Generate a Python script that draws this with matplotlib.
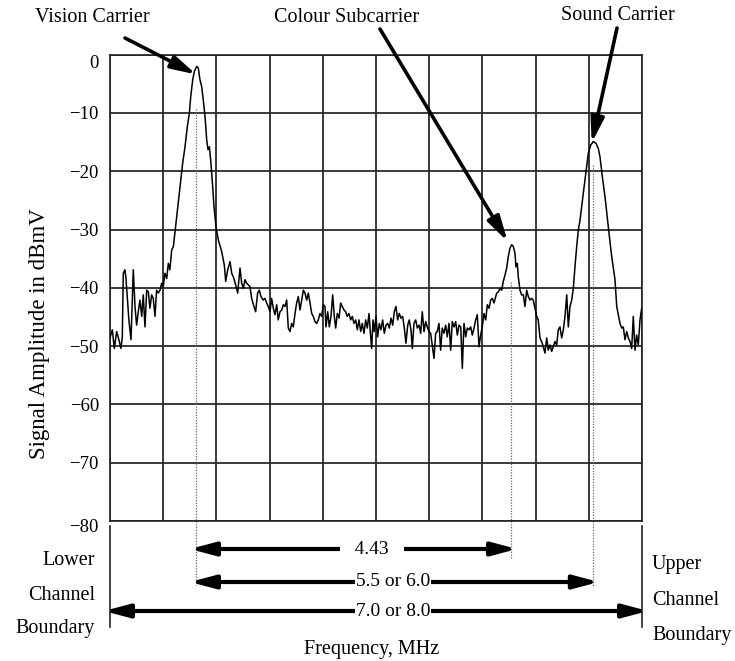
import math
import matplotlib
matplotlib.use("Agg")
import matplotlib.pyplot as plt
from matplotlib.ticker import MultipleLocator
from matplotlib.transforms import blended_transform_factory, ScaledTranslation

plt.rcParams['font.family'] = ['Liberation Serif', 'DejaVu Serif']

# ---------------- data ----------------
freq_mhz = [
    0.000, 0.035, 0.065, 0.100, 0.134, 0.165, 0.185, 0.200, 0.225, 0.240,
    0.266, 0.284, 0.316, 0.350, 0.376, 0.400, 0.425, 0.450, 0.477, 0.500,
    0.526, 0.552, 0.577, 0.600, 0.627, 0.650, 0.677, 0.700, 0.726, 0.752,
    0.777, 0.800, 0.827, 0.853, 0.877, 0.900, 0.928,
    0.953, 1.003, 1.053, 1.093, 1.128, 1.163, 1.193, 1.214, 1.244, 1.268,
    1.304, 1.328, 1.353, 1.379, 1.403, 1.429, 1.454, 1.474, 1.494, 1.514,
    1.544, 1.564, 1.594, 1.629, 1.680, 1.719, 1.740, 1.770, 1.805, 1.830,
    1.854, 1.890, 1.920, 1.955, 1.980, 2.005, 2.030, 2.055, 2.080, 2.105,
    2.130, 2.165, 2.190, 2.220, 2.245, 2.270, 2.305, 2.330, 2.356, 2.380,
    2.406, 2.430, 2.456, 2.480, 2.507, 2.530, 2.556, 2.582, 2.606, 2.632,
    2.657, 2.681, 2.707, 2.732, 2.756, 2.782, 2.807, 2.832, 2.857, 2.883,
    2.907, 2.932, 2.958, 2.982, 3.008, 3.033, 3.057, 3.083, 3.108, 3.132,
    3.158, 3.183, 3.208, 3.233, 3.248, 3.274, 3.298, 3.323, 3.349, 3.373,
    3.394, 3.418, 3.444, 3.469, 3.493, 3.519, 3.544, 3.568, 3.594, 3.619,
    3.644, 3.669, 3.695, 3.719, 3.744, 3.770, 3.794, 3.820, 3.845, 3.869,
    3.895, 3.920, 3.935, 3.955, 3.974, 4.000, 4.025, 4.050, 4.075, 4.100,
    4.125, 4.150, 4.176, 4.200, 4.226, 4.251, 4.275, 4.300, 4.326, 4.350,
    4.376, 4.400, 4.426, 4.450, 4.477, 4.500, 4.526, 4.546, 4.571, 4.597,
    4.621, 4.647, 4.672, 4.696, 4.722, 4.747, 4.771, 4.797, 4.822, 4.846,
    4.872, 4.897, 4.921, 4.947, 4.972, 4.996, 5.022, 5.048, 5.072, 5.098,
    5.123, 5.147, 5.173, 5.198, 5.223, 5.248, 5.274, 5.298, 5.323, 5.349,
    5.373, 5.398, 5.424, 5.448, 5.474, 5.499, 5.523, 5.549, 5.574, 5.598,
    5.624, 5.650, 5.674, 5.700, 5.725, 5.749, 5.774, 5.815, 5.839, 5.865,
    5.890, 5.914, 5.940, 5.965, 5.990, 6.015, 6.040, 6.065, 6.090, 6.105,
    6.125, 6.140, 6.165, 6.190, 6.215, 6.240, 6.266, 6.290, 6.316, 6.340,
    6.365, 6.390, 6.416, 6.440, 6.466, 6.490, 6.516, 6.541, 6.567, 6.590,
    6.617, 6.642, 6.666, 6.692, 6.717, 6.741, 6.767, 6.792, 6.817, 6.842,
    6.868, 6.892, 6.917, 6.943, 6.967, 6.992, 7.018, 7.042, 7.068, 7.117,
    7.168, 7.193, 7.229, 7.268, 7.308, 7.343, 7.368, 7.403, 7.444, 7.493,
    7.544, 7.594, 7.620, 7.669, 7.695, 7.719, 7.744, 7.770, 7.794, 7.820,
    7.845, 7.869, 7.895, 7.920, 7.944, 7.970, 7.995,
]
level_dbmv = [
    -48.6, -47.2, -50.4, -47.5, -48.9, -50.4, -48.4, -37.5, -36.9, -38.4,
    -42.6, -45.5, -48.9, -36.9, -43.2, -46.4, -44.1, -42.1, -44.9, -41.2,
    -46.7, -40.4, -40.7, -43.5, -41.2, -41.8, -44.9, -40.4, -40.9, -40.4,
    -39.2, -39.8, -37.5, -38.4, -35.8, -36.9, -33.5,
    -32.9, -27.8, -22.6, -18.6, -15.8, -12.3, -10.1, -7.2, -4.3, -2.9,
    -2.0, -2.3, -4.3, -5.5, -7.8, -10.6, -14.6, -16.3, -15.8, -18.1,
    -22.6, -26.1, -29.5, -31.8, -33.8, -36.1, -38.9, -36.9, -35.5, -37.5,
    -38.1, -39.5, -40.9, -36.6, -39.2, -40.1, -38.6, -39.2, -39.5, -39.8,
    -41.8, -43.2, -44.1, -40.9, -40.4, -41.5, -42.1, -41.8, -42.6, -43.2,
    -44.1, -41.8, -43.5, -44.6, -42.9, -45.5, -44.1, -43.8, -42.9, -43.2,
    -42.1, -46.9, -47.5, -46.1, -46.7, -44.4, -42.6, -41.5, -43.8, -42.1,
    -40.4, -40.9, -42.1, -40.9, -42.6, -44.4, -44.9, -45.8, -46.1, -45.5,
    -44.4, -44.9, -42.9, -43.2, -46.7, -44.1, -46.7, -44.9, -41.2, -44.9,
    -46.9, -44.4, -45.2, -42.6, -43.2, -43.8, -44.1, -44.9, -44.4, -45.5,
    -44.9, -46.1, -45.5, -47.2, -45.5, -47.5, -46.1, -47.8, -45.5, -46.9,
    -44.4, -48.4, -50.4, -45.5, -47.5, -44.9, -48.4, -46.1, -47.2, -45.5,
    -47.8, -46.4, -46.1, -46.9, -45.2, -46.4, -44.1, -43.2, -45.5, -44.4,
    -45.2, -44.9, -46.9, -49.5, -46.4, -45.5, -47.2, -50.4, -46.1, -45.5,
    -46.9, -46.4, -47.8, -44.1, -47.5, -45.8, -46.7, -47.5, -47.8, -49.8,
    -52.1, -47.8, -47.5, -46.1, -50.7, -46.9, -47.8, -46.4, -48.4, -46.1,
    -50.7, -45.8, -46.7, -45.8, -48.1, -46.4, -46.7, -53.8, -46.1, -48.4,
    -46.9, -47.2, -46.7, -48.1, -46.9, -45.5, -44.6, -50.1, -48.1, -46.7,
    -44.4, -45.5, -42.9, -43.5, -42.1, -41.8, -42.6, -40.9, -40.7, -40.1,
    -40.4, -38.9, -37.8, -36.6, -34.6, -33.2, -32.6, -32.9, -34.1, -36.4,
    -35.8, -38.1, -40.4, -41.2, -41.2, -43.2, -40.4, -41.5, -42.1, -41.8,
    -42.1, -43.5, -44.9, -45.5, -48.6, -49.2, -50.1, -51.2, -48.6, -50.7,
    -49.8, -50.9, -50.1, -49.2, -49.8, -47.2, -46.7, -48.6, -47.2, -44.9,
    -41.2, -46.7, -43.2, -42.1, -40.1, -36.4, -32.9, -30.1, -28.4, -23.8,
    -19.2, -16.9, -15.5, -14.9, -15.2, -16.1, -17.5, -20.9, -24.4, -29.5,
    -34.6, -38.6, -43.2, -46.1, -46.9, -46.7, -48.9, -47.5, -48.6, -49.2,
    -50.4, -44.9, -50.7, -48.1, -49.8, -45.5, -43.5,
]

y_ticks = [0, -10, -20, -30, -40, -50, -60, -70, -80]
channel_span = [0.0, 8.0]

carrier_names = ["Vision Carrier", "Colour Subcarrier", "Sound Carrier"]
carrier_freqs = [1.293, 6.03, 7.26]          # MHz from lower boundary
carrier_marker_top = [-9.3, -39.0, -18.9]    # dBmV where dotted marker starts
carrier_arrow_tip = [(1.23, -3.0), (5.94, -31.3), (7.26, -14.3)]

span_labels = ["4.43", "5.5 or 6.0", "7.0 or 8.0"]

# ---------------- figure ----------------
W, H = 735, 661
fig = plt.figure(figsize=(W / 100, H / 100), dpi=100)
fig.patch.set_facecolor('white')


def fx(px):
    return px / W


def fy(py):
    return 1 - py / H


ax = fig.add_axes([fx(110), fy(521), 532 / W, (521 - 54.7) / H])
ax.set_xlim(channel_span)
ax.set_ylim(-80, 0)
ax.xaxis.set_major_locator(MultipleLocator(0.8))
ax.set_yticks(y_ticks)
ax.grid(True, color='#2a2a2a', lw=1.3)
ax.set_axisbelow(True)
ax.tick_params(length=0, pad=8, labelsize=13.5)
ax.tick_params(axis='x', labelbottom=False)
for s in ax.spines.values():
    s.set_linewidth(1.2)
    s.set_color('#222222')

# nudge the end labels slightly downward as in the original
ylabels = ax.get_yticklabels()
ylabels[0].set_transform(ylabels[0].get_transform() +
                         ScaledTranslation(0, -7 / 100, fig.dpi_scale_trans))
ylabels[-1].set_transform(ylabels[-1].get_transform() +
                          ScaledTranslation(0, -5 / 100, fig.dpi_scale_trans))

ax.plot(freq_mhz, level_dbmv, color='black', lw=1.1, zorder=3)

# y axis label
fig.text(fx(40), fy(334), "Signal Amplitude in dBmV", rotation=90,
         ha='center', va='center', fontsize=16.5)

# blended transform: x in data (MHz), y in figure fraction
bt = blended_transform_factory(ax.transData, fig.transFigure)

# dotted carrier markers
marker_bottom_px = [585, 558, 587]
for f, top, bpx in zip(carrier_freqs, carrier_marker_top, marker_bottom_px):
    ax.plot([f, f], [top, -80], ls=(0, (1, 1.2)), color='#666666', lw=0.9,
            zorder=2)
    ax.plot([f, f], [fy(521), fy(bpx)], transform=bt, ls=(0, (1, 1.2)),
            color='#666666', lw=0.9, clip_on=False)

# carrier call-out arrows and labels (tip pushed ~5 px further along the
# arrow to compensate for the bevelled filled head)
label_pos = [(92, 18), (347, 18), (618, 15)]
tail_pos = [(125, 38), (380, 29), (617, 28)]
for name, (lx, ly), (tx, ty), tip in zip(carrier_names, label_pos, tail_pos,
                                          carrier_arrow_tip):
    fig.text(fx(lx), fy(ly), name, ha='center', va='center', fontsize=14.5)
    tail_disp = (tx, H - ty)
    tip_disp = ax.transData.transform(tip)
    dx, dy = tip_disp[0] - tail_disp[0], tip_disp[1] - tail_disp[1]
    n = math.hypot(dx, dy)
    ext = (tip_disp[0] + 5 * dx / n, tip_disp[1] + 5 * dy / n)
    ax.annotate('', xy=(ext[0] / W, ext[1] / H), xycoords='figure fraction',
                xytext=(fx(tx), fy(ty)), textcoords='figure fraction',
                arrowprops=dict(arrowstyle='-|>,head_length=0.75,head_width=0.2',
                                lw=2.6, color='black', shrinkA=0, shrinkB=0,
                                mutation_scale=20),
                annotation_clip=False, zorder=5)

# channel boundary lines
for f in channel_span:
    ax.plot([f, f], [fy(526), fy(627)], transform=bt, color='#222222',
            lw=1.2, clip_on=False)

# span arrows
span_ends = [(carrier_freqs[0], carrier_freqs[1]),
             (carrier_freqs[0], carrier_freqs[2]),
             (channel_span[0], channel_span[1])]
span_y_px = [549, 582, 611]
span_label_x = [3.94, 4.26, 4.26]
span_text = ["   " + span_labels[0] + "   ", span_labels[1], span_labels[2]]
push_left = bt + ScaledTranslation(-6 / 100, 0, fig.dpi_scale_trans)
push_right = bt + ScaledTranslation(6 / 100, 0, fig.dpi_scale_trans)
for (a, b), ypx, lxv, txt in zip(span_ends, span_y_px, span_label_x, span_text):
    ax.annotate('', xy=(b, fy(ypx)), xycoords=push_right,
                xytext=(a, fy(ypx)), textcoords=push_left,
                arrowprops=dict(arrowstyle='<|-|>,head_length=0.75,head_width=0.2',
                                lw=3.0, color='black', shrinkA=0, shrinkB=0,
                                mutation_scale=20),
                annotation_clip=False, zorder=5)
    ax.text(lxv, fy(ypx), txt, transform=bt, ha='center', va='center',
            fontsize=14, clip_on=False, zorder=6,
            bbox=dict(facecolor='white', edgecolor='none', pad=0.5))

# boundary captions
for word, ypx in zip(["Lower", "Channel", "Boundary"], [565, 600, 633]):
    fig.text(fx(95), fy(ypx), word, ha='right', va='baseline', fontsize=14.5)
for word, ypx in zip(["Upper", "Channel", "Boundary"], [569, 605, 640]):
    fig.text(fx(652), fy(ypx), word, ha='left', va='baseline', fontsize=14.5)

fig.text(fx(372), fy(654), "Frequency, MHz", ha='center', va='baseline',
         fontsize=14.5)

fig.savefig("out.png", dpi=100, facecolor='white')
